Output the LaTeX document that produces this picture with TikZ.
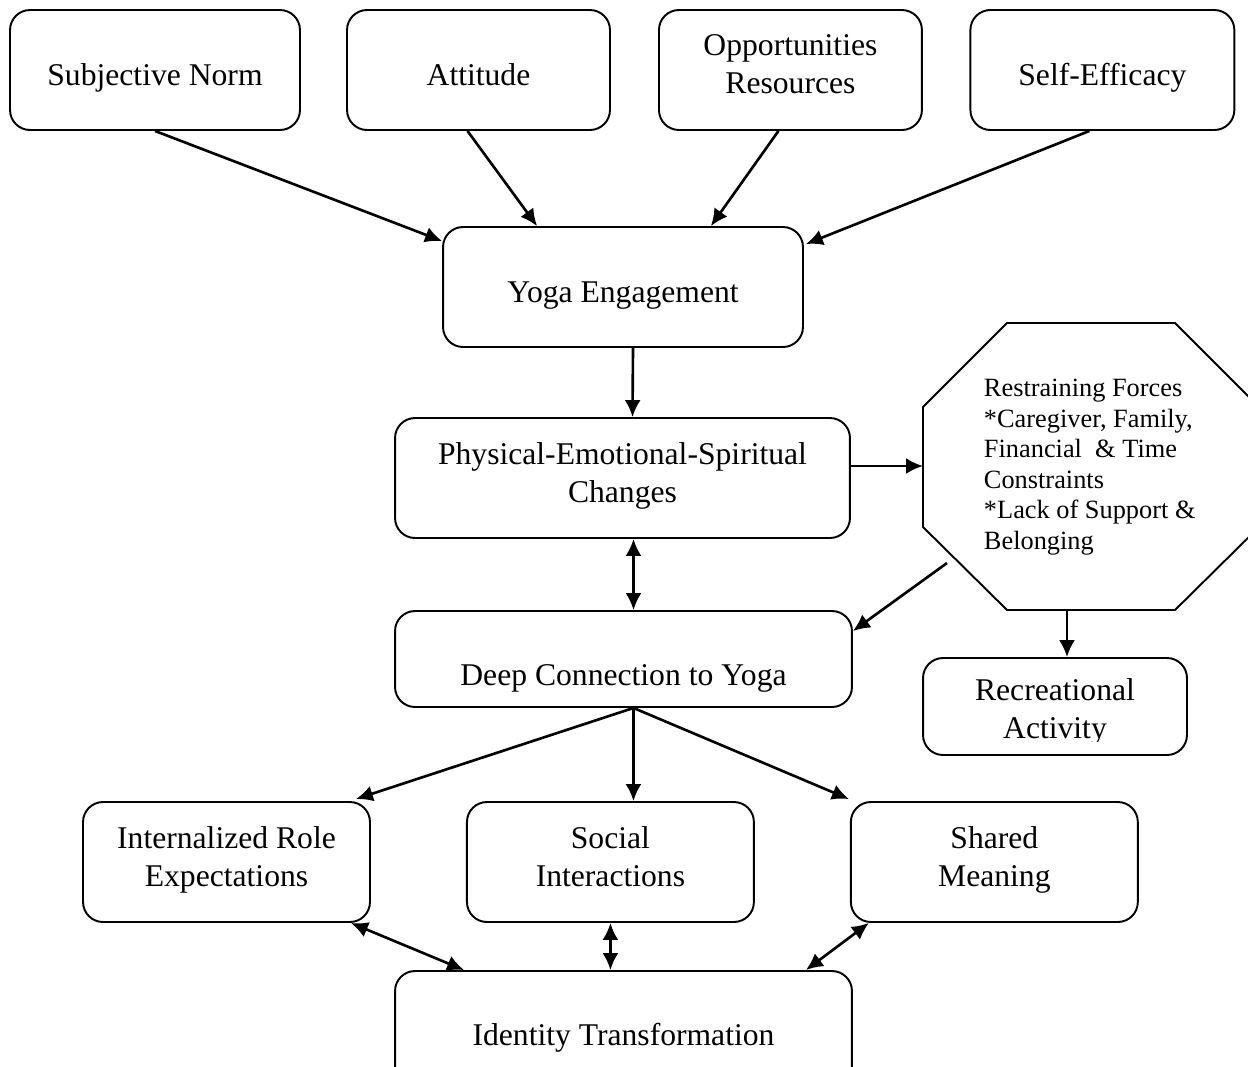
\documentclass[tikz,border=0pt]{standalone}
\usepackage{fontspec}
\setmainfont{Liberation Serif}
\usetikzlibrary{arrows.meta,calc,positioning}

\begin{document}
\begin{tikzpicture}[x=0.02cm,y=-0.02cm,line width=1.1pt,node distance=6.24cm,
                    main node/.style={draw,rounded corners=0.4cm,align=center,inner sep=0pt,
                      minimum height=2.4cm,font=\fontsize{18}{21.6}\selectfont,execute at end node=\strut},
                    one line/.style={text height=0.63cm,text depth=0pt},
                    link/.style={line width=1.5pt,-{Latex[length=0.34cm,width=0.32cm]}},
                    both/.style={line width=1.5pt,{Latex[length=0.34cm,width=0.32cm]}-{Latex[length=0.34cm,width=0.32cm]}}]

  \useasboundingbox (0,0) rectangle (1248,1066);

  \node[main node,one line,minimum width=5.8cm] (1) at (155,70) {Subjective Norm};
  \node[main node,one line,minimum width=5.26cm] (2) at (478.5,70) {Attitude};
  \node[main node,minimum width=5.26cm] (3) [right of=2] {Opportunities\\Resources};
  \node[main node,one line,minimum width=5.28cm] (4) [right of=3] {Self-Efficacy};
  \node[main node,one line,minimum width=7.2cm] (5) at (623,287) {Yoga Engagement};
  \node[main node,minimum width=9.1cm] (6) at (622.5,478) {Physical-Emotional-Spiritual\\Changes};
  \node[main node,minimum width=9.14cm,minimum height=1.92cm,text height=1.04cm,text depth=0pt] (7) at (623.5,659) {Deep Connection to Yoga};
  \node[main node,minimum width=5.28cm,minimum height=1.94cm] (8) at (1055,706.5) {};
  \node[main node,minimum width=5.74cm] (9) at (226.5,862) {Internalized Role\\Expectations};
  \node[main node,minimum width=5.74cm,node distance=7.68cm] (10) [right of=9] {Social\\Interactions};
  \node[main node,minimum width=5.74cm,node distance=7.68cm] (11) [right of=10] {Shared\\Meaning};
  \node[main node,minimum width=9.14cm,text height=0.56cm,text depth=0pt] (12) at (623.5,1031) {Identity Transformation};

  \draw (923,407) -- (1007,323) -- (1175,323) -- (1259,407) -- (1259,527) -- (1175,610) -- (1007,610) -- (923,527) -- cycle;
  \node[anchor=west,align=left,inner sep=0pt,font=\fontsize{15}{17.4}\selectfont] (13) at (983,467)
    {Restraining Forces\\*Caregiver, Family,\\Financial~ \& Time\\Constraints\\*Lack of Support \&\\Belonging};
  \coordinate (a) at (923,466);
  \coordinate (b) at (947,563);
  \coordinate (c) at (1067,610);

  \begin{scope}
    \clip (923,658) rectangle (1187,741);
    \node[align=center,inner sep=0pt,font=\fontsize{18}{21.6}\selectfont] (14) at (1055,712) {Recreational\\Activity};
  \end{scope}

  \path[link]
    (1.south) edge ($(5.north west)+(0,15)$)
    ($(2.south)+(-11,0)$) edge ($(5.north west)+(95,0)$)
    ($(3.south)+(-12,0)$) edge ($(5.north east)+(-93,0)$)
    ($(4.south)+(-13,0)$) edge ($(5.north east)+(2,18)$)
    ($(5.south)+(10,0)$) edge ($(6.north)+(10,0)$)
    ($(6.east)+(0,-12)$) edge (a)
    (b) edge ($(7.north east)+(0,21)$)
    (c) edge (c |- 8.north)
    ($(7.south)+(10,0)$) edge ($(9.north east)+(-15,-2)$)
    ($(7.south)+(10,0)$) edge ($(10.north)+(23,0)$)
    ($(7.south)+(10,0)$) edge ($(11.north west)+(-1,-2)$);

  \path[both]
    ($(6.south)+(11,0)$) edge ($(7.north)+(10,0)$)
    ($(9.south east)+(-20,0)$) edge ($(12.north west)+(70,0)$)
    (10.south) edge (10.south |- 12.north)
    ($(11.south west)+(19,0)$) edge ($(12.north east)+(-47,0)$);

\end{tikzpicture}
\end{document}
